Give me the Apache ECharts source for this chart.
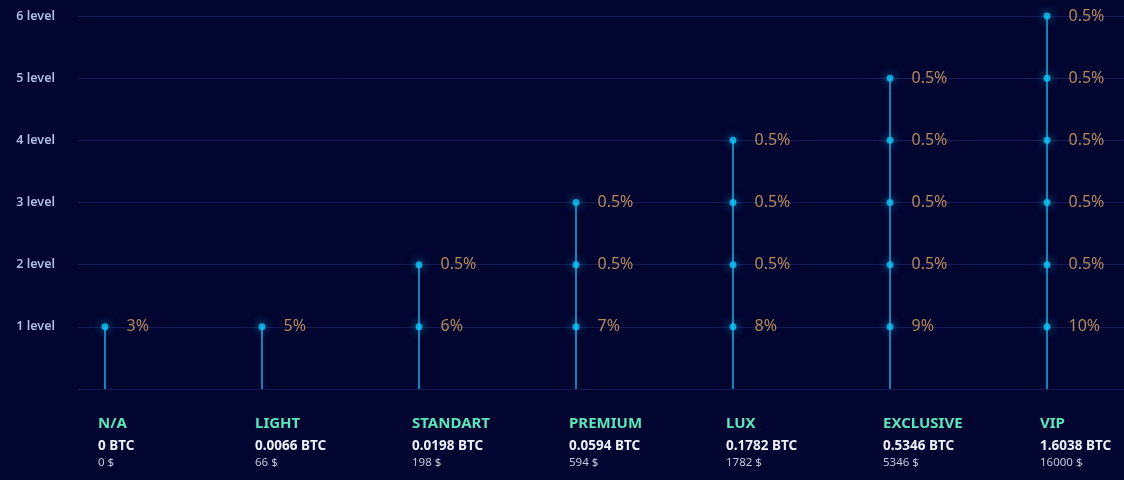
<!DOCTYPE html>
<html>
<head>
<meta charset="utf-8">
<script src="https://cdn.jsdelivr.net/npm/echarts@6/dist/echarts.min.js"></script>
<style>
html,body{margin:0;padding:0;background:#01052f;}
#chart{width:1124px;height:480px;}
</style>
</head>
<body>
<div id="chart"></div>
<script>
// ---- data ----
const categories = ['N/A', 'LIGHT', 'STANDART', 'PREMIUM', 'LUX', 'EXCLUSIVE', 'VIP'];
const btcAmounts = ['0', '0.0066', '0.0198', '0.0594', '0.1782', '0.5346', '1.6038'];
const usdAmounts = ['0', '66', '198', '594', '1782', '5346', '16000'];
const levelCounts = [1, 1, 2, 3, 4, 5, 6];
const firstLevelRates = ['3%', '5%', '6%', '7%', '8%', '9%', '10%'];
const upperLevelRate = '0.5%';
const levelLabels = ['', '1 level', '2 level', '3 level', '4 level', '5 level', '6 level'];

// build points
const points = [];
categories.forEach((c, i) => {
  for (let l = 1; l <= levelCounts[i]; l++) {
    points.push({ value: [i, l], rate: l === 1 ? firstLevelRates[i] : upperLevelRate });
  }
});

const FONT = '"Noto Sans", "Open Sans", sans-serif';
const chart = echarts.init(document.getElementById('chart'));
chart.setOption({
  backgroundColor: '#01052f',
  animation: false,
  grid: [
    { left: 78, right: 0, top: 16, bottom: 91 },
    { left: 105, right: 77, top: 16, bottom: 91 },
    { left: 98, right: 84, top: 16, bottom: 91 }
  ],
  xAxis: [
    { gridIndex: 0, type: 'value', min: 0, max: 1, show: false },
    { gridIndex: 1, type: 'category', data: categories, boundaryGap: false, show: false },
    {
      gridIndex: 2, type: 'category', data: categories, boundaryGap: false,
      axisLine: { show: false }, axisTick: { show: false }, splitLine: { show: false },
      axisLabel: {
        interval: 0, align: 'left', margin: 23,
        formatter: (v, i) => `{n|${v}}\n{b|${btcAmounts[i]} BTC}\n{u|${usdAmounts[i]} $}`,
        rich: {
          n: { color: '#5ee6bb', fontSize: 15, fontWeight: 'bold', fontFamily: FONT, lineHeight: 24 },
          b: { color: '#eef0f8', fontSize: 13.5, fontWeight: 'bold', fontFamily: FONT, lineHeight: 20 },
          u: { color: '#c4c8dc', fontSize: 11.5, fontFamily: FONT, lineHeight: 13 }
        }
      }
    }
  ],
  yAxis: [
    {
      gridIndex: 0, type: 'value', min: 0, max: 6, interval: 1,
      axisLine: { show: false }, axisTick: { show: false },
      splitLine: { lineStyle: { color: '#151c52', width: 1 } },
      axisLabel: {
        margin: 23, align: 'right', color: '#b0bee6', fontSize: 12.5, fontWeight: 600, fontFamily: FONT,
        formatter: v => levelLabels[v]
      }
    },
    { gridIndex: 1, type: 'value', min: 0, max: 6, show: false },
    { gridIndex: 2, type: 'value', min: 0, max: 6, show: false }
  ],
  series: [
    {
      type: 'bar', xAxisIndex: 1, yAxisIndex: 1, data: levelCounts,
      barWidth: 1.6, itemStyle: { color: '#1aa3da' }, silent: true
    },
    {
      type: 'scatter', xAxisIndex: 1, yAxisIndex: 1, data: points,
      symbolSize: 7,
      itemStyle: { color: '#12c8f7', shadowColor: 'rgba(20,190,255,1)', shadowBlur: 10 },
      label: {
        show: true, position: 'right', distance: 18,
        formatter: p => p.data.rate,
        color: '#e2a866', fontSize: 16, fontFamily: FONT
      },
      z: 5
    }
  ]
});
</script>
</body>
</html>
